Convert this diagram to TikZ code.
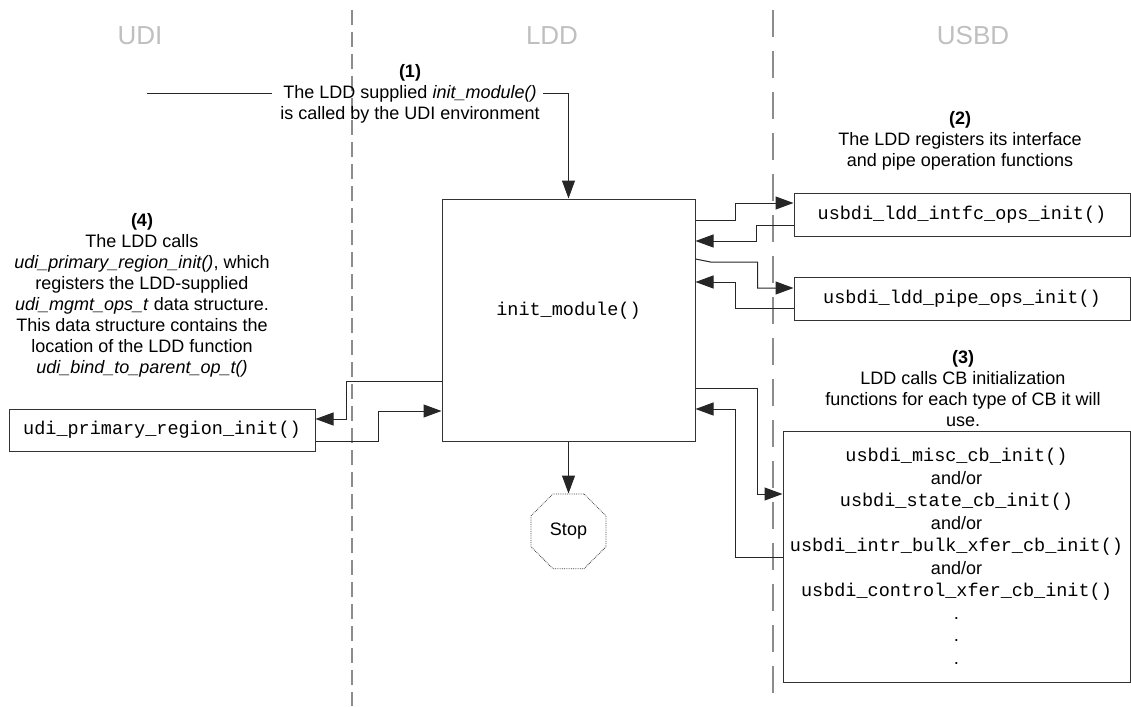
\documentclass[tikz,border=0pt]{standalone}
\usepackage{fontspec}
\setmainfont{Liberation Sans}
\setmonofont{Liberation Mono}
\usetikzlibrary{arrows.meta,positioning,shapes.geometric}

\begin{document}
\begin{tikzpicture}[
  x=1pt, y=-1pt,
  font=\fontsize{18}{21}\selectfont,
  lane/.style={text=black!25, font=\fontsize{26}{30}\selectfont},
  divider/.style={draw=black!45, line width=1.5pt},
  func/.style={draw=black!80, line width=1pt, inner sep=0pt, align=center, font=\ttfamily\fontsize{18.5}{22.5}\selectfont},
  note/.style={inner sep=0pt, align=center},
  link/.style={draw=black!85, line width=1pt},
  arrow/.style={link, -{Triangle[length=18pt,width=13pt]}}
]
\useasboundingbox (0,0) rectangle (1131,706);

% lanes
\node[lane] (udi) at (140,36) {UDI};
\node[lane] (ldd) at (552,36) {LDD};
\node[lane] (usbd) at (973,36) {USBD};
\coordinate (udiTop) at (352,10);
\coordinate (udiBot) at (352,706);
\coordinate (usbdTop) at (773,10);
\coordinate (usbdBot) at (773,706);
\draw[divider, dash pattern=on 15pt off 7pt] (udiTop) -- (udiBot);
\draw[divider, dash pattern=on 27pt off 14pt] (usbdTop) -- (usbdBot);

% boxes
\node[func, minimum width=253pt, minimum height=242pt, text height=13pt, text depth=22pt] (init) at (568.5,320) {init\_module()};
\node[draw=black!75, densely dotted, line width=0.8pt, regular polygon, regular polygon sides=8, minimum size=81pt, inner sep=0pt, below=52pt of init.south, anchor=north] (stop) {Stop};
\node[func, minimum width=336pt, minimum height=43pt] (intfc) at (962,214.5) {usbdi\_ldd\_intfc\_ops\_init()};
\node[func, minimum width=336pt, minimum height=43pt] (pipe) at (962,298.5) {usbdi\_ldd\_pipe\_ops\_init()};
\node[func, minimum width=347pt, minimum height=251pt] (cbinit) at (956.5,556.5) {usbdi\_misc\_cb\_init()\\{\rmfamily\fontsize{18}{22.5}\selectfont and/or}\\usbdi\_state\_cb\_init()\\{\rmfamily\fontsize{18}{22.5}\selectfont and/or}\\usbdi\_intr\_bulk\_xfer\_cb\_init()\\{\rmfamily\fontsize{18}{22.5}\selectfont and/or}\\usbdi\_control\_xfer\_cb\_init()\\{\rmfamily .}\\{\rmfamily .}\\{\rmfamily .}};
\node[func, minimum width=306pt, minimum height=42pt] (region) at (162,430) {udi\_primary\_region\_init()};

% notes
\node[note] (step1) at (410,94) {\textbf{(1)}\\The LDD supplied \textit{init\_module()}\\is called by the UDI environment};
\node[note] (step2) at (960,141) {\textbf{(2)}\\The LDD registers its interface\\and pipe operation functions};
\node[note] (step3) at (963,389) {\textbf{(3)}\\LDD calls CB initialization\\functions for each type of CB it will\\use.};
\node[note] (step4) at (142,295) {\textbf{(4)}\\The LDD calls\\\textit{udi\_primary\_region\_init()}, which\\registers the LDD-supplied\\\textit{udi\_mgmt\_ops\_t} data structure.\\This data structure contains the\\location of the LDD function\\\textit{udi\_bind\_to\_parent\_op\_t()}};
\coordinate (feed) at (147,94);

% connectors
\draw[link] (feed) -- ([xshift=-8pt]step1.west);
\draw[arrow] ([xshift=3pt]step1.east) -| (init.north);
\draw[arrow] (init.south) -- (stop.north);
\draw[arrow] ([yshift=100pt]init.east) -- ++(40,0) |- ([yshift=11.5pt]intfc.west);
\draw[arrow] ([yshift=-10.5pt]intfc.west) -- ++(-37,0) |- ([yshift=79pt]init.east);
\draw[arrow] ([yshift=61pt]init.east) -- ++(15,3) -- ++(47,0) |- ([yshift=10.5pt]pipe.west);
\draw[arrow] ([yshift=-9.5pt]pipe.west) -- ++(-58,0) |- ([yshift=38pt]init.east);
\draw[arrow] ([yshift=-68pt]init.east) -- ++(62,0) |- ([yshift=62.5pt]cbinit.west);
\draw[arrow] ([yshift=-0.5pt]cbinit.west) -- ++(-47,0) |- ([yshift=-89pt]init.east);
\draw[arrow] ([yshift=-61pt]init.west) -- ++(-95,0) |- ([yshift=11pt]region.east);
\draw[arrow] ([yshift=-11pt]region.east) -- ++(63,0) |- ([yshift=-91pt]init.west);
\end{tikzpicture}
\end{document}
